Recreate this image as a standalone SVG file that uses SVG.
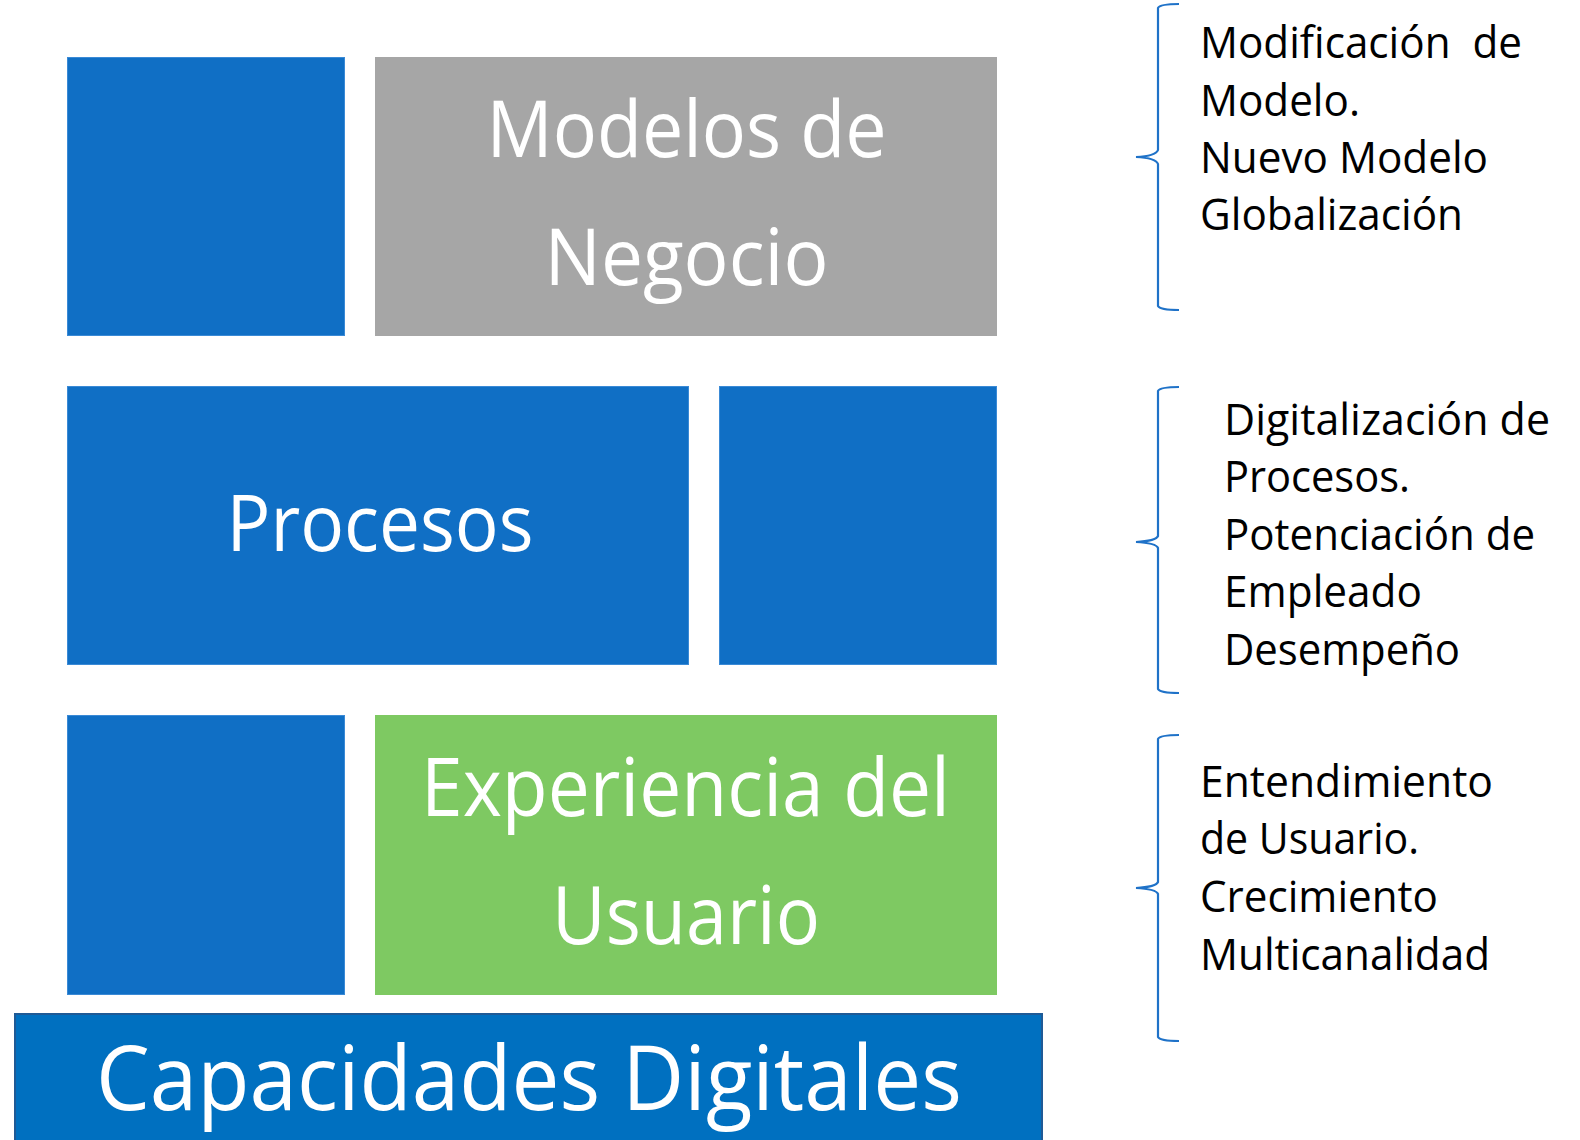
<svg xmlns="http://www.w3.org/2000/svg" width="1580" height="1140" viewBox="0 0 1580 1140">
<style>
.blue{fill:#106fc5;stroke:#3a8ad6;stroke-width:1}
.gray{fill:#a6a6a6}
.green{fill:#7ec962}
.bar{fill:#0070c0;stroke:#1f5a96;stroke-width:2}
.big{font-family:"Open Sans","Noto Sans",sans-serif;fill:#ffffff;text-anchor:middle}
.side{font-family:"Open Sans","Noto Sans",sans-serif;font-size:43px;fill:#000000}
.brace{fill:none;stroke:#1f72c8;stroke-width:2.2}
</style>
<rect width="1580" height="1140" fill="#ffffff"/>
<g id="n-blue1"><rect class="blue" x="67.5" y="57.5" width="277" height="278"/></g>
<g id="n-modelos"><rect class="gray" x="375" y="57" width="622" height="279"/>
<text class="big" font-size="78" x="686.5" y="157" textLength="400" lengthAdjust="spacingAndGlyphs">Modelos de</text>
<text class="big" font-size="78" x="686.5" y="285" textLength="284" lengthAdjust="spacingAndGlyphs">Negocio</text></g>
<g id="n-procesos"><rect class="blue" x="67.5" y="386.5" width="621" height="278"/>
<text class="big" font-size="78" x="380" y="551" textLength="307" lengthAdjust="spacingAndGlyphs">Procesos</text></g>
<g id="n-blue2"><rect class="blue" x="719.5" y="386.5" width="277" height="278"/></g>
<g id="n-blue3"><rect class="blue" x="67.5" y="715.5" width="277" height="279"/></g>
<g id="n-experiencia"><rect class="green" x="375" y="715" width="622" height="280"/>
<text class="big" font-size="80" x="685.5" y="816" textLength="529" lengthAdjust="spacingAndGlyphs">Experiencia del</text>
<text class="big" font-size="80" x="686" y="944" textLength="268" lengthAdjust="spacingAndGlyphs">Usuario</text></g>
<g id="n-capacidades"><rect class="bar" x="15" y="1014" width="1027" height="140"/>
<text class="big" font-size="90" x="529" y="1110" textLength="866" lengthAdjust="spacingAndGlyphs">Capacidades Digitales</text></g>
<g id="connectors">
<path class="brace" d="M1179,4 Q1160,4 1158,8 L1158,150 Q1156,156 1136,157 Q1156,158 1158,164 L1158,306 Q1160,310 1179,310"/>
<path class="brace" d="M1179,387 Q1160,387 1158,391 L1158,536 Q1156,541 1136,542 Q1156,543 1158,548 L1158,689 Q1160,693 1179,693"/>
<path class="brace" d="M1179,735 Q1160,735 1158,739 L1158,882 Q1156,887 1136,888 Q1156,889 1158,894 L1158,1037 Q1160,1041 1179,1041"/>
</g>
<g id="n-text1">
<text class="side" x="1200" y="58" textLength="322" lengthAdjust="spacingAndGlyphs" xml:space="preserve">Modificación  de</text>
<text class="side" x="1200" y="116" textLength="160" lengthAdjust="spacingAndGlyphs">Modelo.</text>
<text class="side" x="1200" y="173" textLength="288" lengthAdjust="spacingAndGlyphs">Nuevo Modelo</text>
<text class="side" x="1200" y="230" textLength="263" lengthAdjust="spacingAndGlyphs">Globalización</text>
</g>
<g id="n-text2">
<text class="side" x="1224" y="435" textLength="326" lengthAdjust="spacingAndGlyphs">Digitalización de</text>
<text class="side" x="1224" y="492" textLength="186" lengthAdjust="spacingAndGlyphs">Procesos.</text>
<text class="side" x="1224" y="550" textLength="311" lengthAdjust="spacingAndGlyphs">Potenciación de</text>
<text class="side" x="1224" y="607" textLength="198" lengthAdjust="spacingAndGlyphs">Empleado</text>
<text class="side" x="1224" y="665" textLength="236" lengthAdjust="spacingAndGlyphs">Desempeño</text>
</g>
<g id="n-text3">
<text class="side" x="1200" y="797" textLength="293" lengthAdjust="spacingAndGlyphs">Entendimiento</text>
<text class="side" x="1200" y="854" textLength="219" lengthAdjust="spacingAndGlyphs">de Usuario.</text>
<text class="side" x="1200" y="912" textLength="238" lengthAdjust="spacingAndGlyphs">Crecimiento</text>
<text class="side" x="1200" y="970" textLength="290" lengthAdjust="spacingAndGlyphs">Multicanalidad</text>
</g>
</svg>
